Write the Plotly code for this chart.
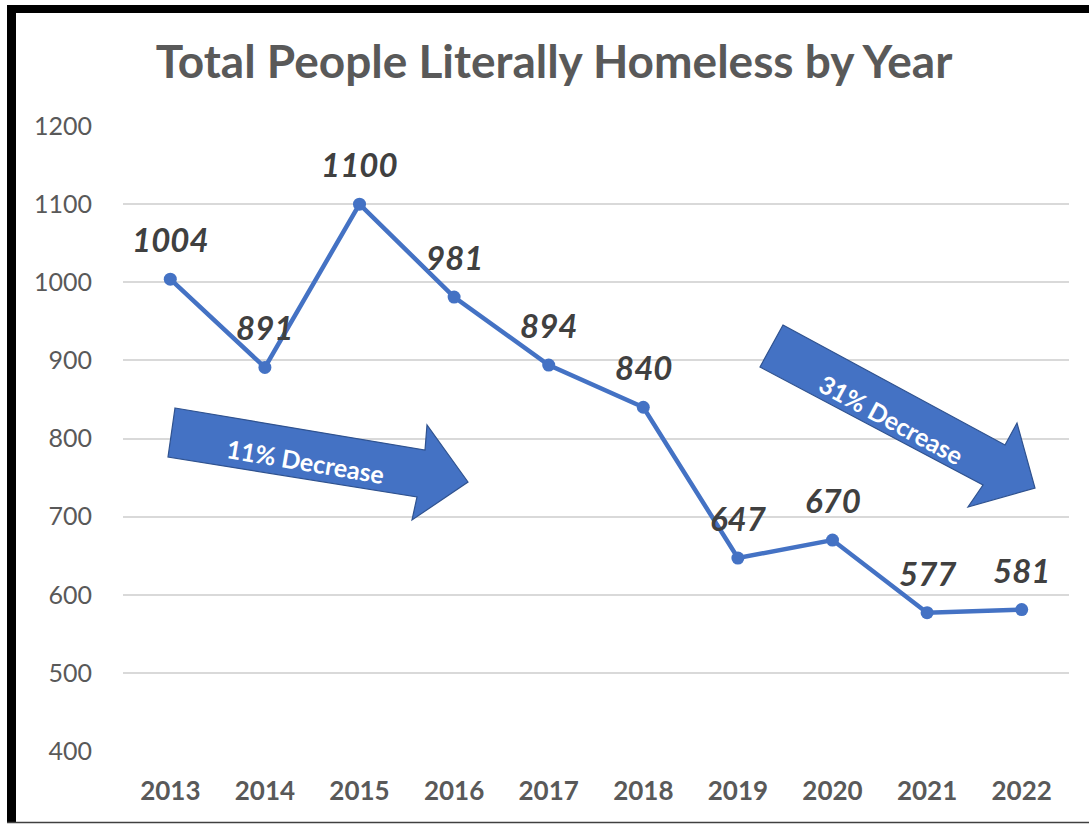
import plotly.graph_objects as go

years = ["2013", "2014", "2015", "2016", "2017", "2018", "2019", "2020", "2021", "2022"]
homeless = [1004, 891, 1100, 981, 894, 840, 647, 670, 577, 581]
y_ticks = [400, 500, 600, 700, 800, 900, 1000, 1100, 1200]
title_text = "Total People Literally Homeless by Year"
arrow_labels = ["11% Decrease", "31% Decrease"]

W, H = 1089, 824
L, R, T, B = 123, 1069, 126, 751


def px(x, y):
    return (x - L) / (R - L), (B - y) / (B - T)


def poly(points):
    pts = [px(x, y) for x, y in points]
    return "M " + " L ".join(f"{a:.5f},{b:.5f}" for a, b in pts) + " Z"


fig = go.Figure()
fig.add_trace(go.Scatter(
    x=years, y=homeless, mode="lines+markers",
    line=dict(color="#4472C4", width=4.5),
    marker=dict(color="#4472C4", size=13),
    hoverinfo="skip", showlegend=False,
))

annotations = []
for i, v in enumerate(homeless):
    annotations.append(dict(
        x=i, y=v, xref="x", yref="y", text=f"<b><i>{v}</i></b>",
        showarrow=False, yshift=40, xanchor="center", yanchor="middle",
        font=dict(family="Lato", size=33, color="#404040"),
    ))

arrow1 = [(175, 408), (425, 450), (427, 425), (468, 482), (412, 520), (417, 497), (168, 457)]
arrow2 = [(783, 325), (1005, 445), (1017, 423), (1035, 488), (968, 507), (983, 485), (760, 367)]
shapes = []
for a in (arrow1, arrow2):
    shapes.append(dict(type="path", xref="paper", yref="paper", path=poly(a),
                       fillcolor="#4472C4", line=dict(color="#2F528F", width=1.2), layer="above"))

ax, ay = px(305, 461)
annotations.append(dict(x=ax, y=ay, xref="paper", yref="paper", text=f"<b>{arrow_labels[0]}</b>",
                        showarrow=False, textangle=9.5, xanchor="center", yanchor="middle",
                        font=dict(family="Lato", size=25, color="white")))
ax, ay = px(891, 419)
annotations.append(dict(x=ax, y=ay, xref="paper", yref="paper", text=f"<b>{arrow_labels[1]}</b>",
                        showarrow=False, textangle=28.4, xanchor="center", yanchor="middle",
                        font=dict(family="Lato", size=25, color="white")))

# frame
x0, _ = px(7, 0)
x1, _ = px(16, 0)
_, yt0 = px(0, 5)
_, yt1 = px(0, 13)
_, yb = px(0, 822.5)
xr, _ = px(1100, 0)
shapes.append(dict(type="rect", xref="paper", yref="paper", x0=x0, x1=x1, y0=yb, y1=yt0,
                   fillcolor="black", line=dict(width=0), layer="above"))
shapes.append(dict(type="rect", xref="paper", yref="paper", x0=x0, x1=xr, y0=yt1, y1=yt0,
                   fillcolor="black", line=dict(width=0), layer="above"))
shapes.append(dict(type="line", xref="paper", yref="paper", x0=x0, x1=xr, y0=yb, y1=yb,
                   line=dict(color="#404040", width=1.5), layer="above"))

fig.update_layout(
    width=W, height=H,
    margin=dict(l=L, r=W - R, t=T, b=H - B),
    paper_bgcolor="white", plot_bgcolor="white",
    title=dict(text=f"<b>{title_text}</b>", x=554 / W, xanchor="center", y=1 - 62 / H, yanchor="middle",
               font=dict(family="Lato", size=46, color="#595959")),
    xaxis=dict(type="category", range=[-0.5, 9.5], showgrid=False, zeroline=False, showline=False,
               ticks="", tickfont=dict(family="Lato", size=26, color="#595959"),
               tickvals=years, ticktext=[f"<b>{y}</b>" for y in years], ticklabelstandoff=22),
    yaxis=dict(range=[400, 1200], tickvals=y_ticks, showgrid=True, gridcolor="#D9D9D9", gridwidth=2,
               zeroline=False, showline=False, ticks="",
               tickfont=dict(family="Lato", size=25, color="#595959"), ticklabelstandoff=30),
    shapes=shapes, annotations=annotations,
)
fig.write_html("out.html")
